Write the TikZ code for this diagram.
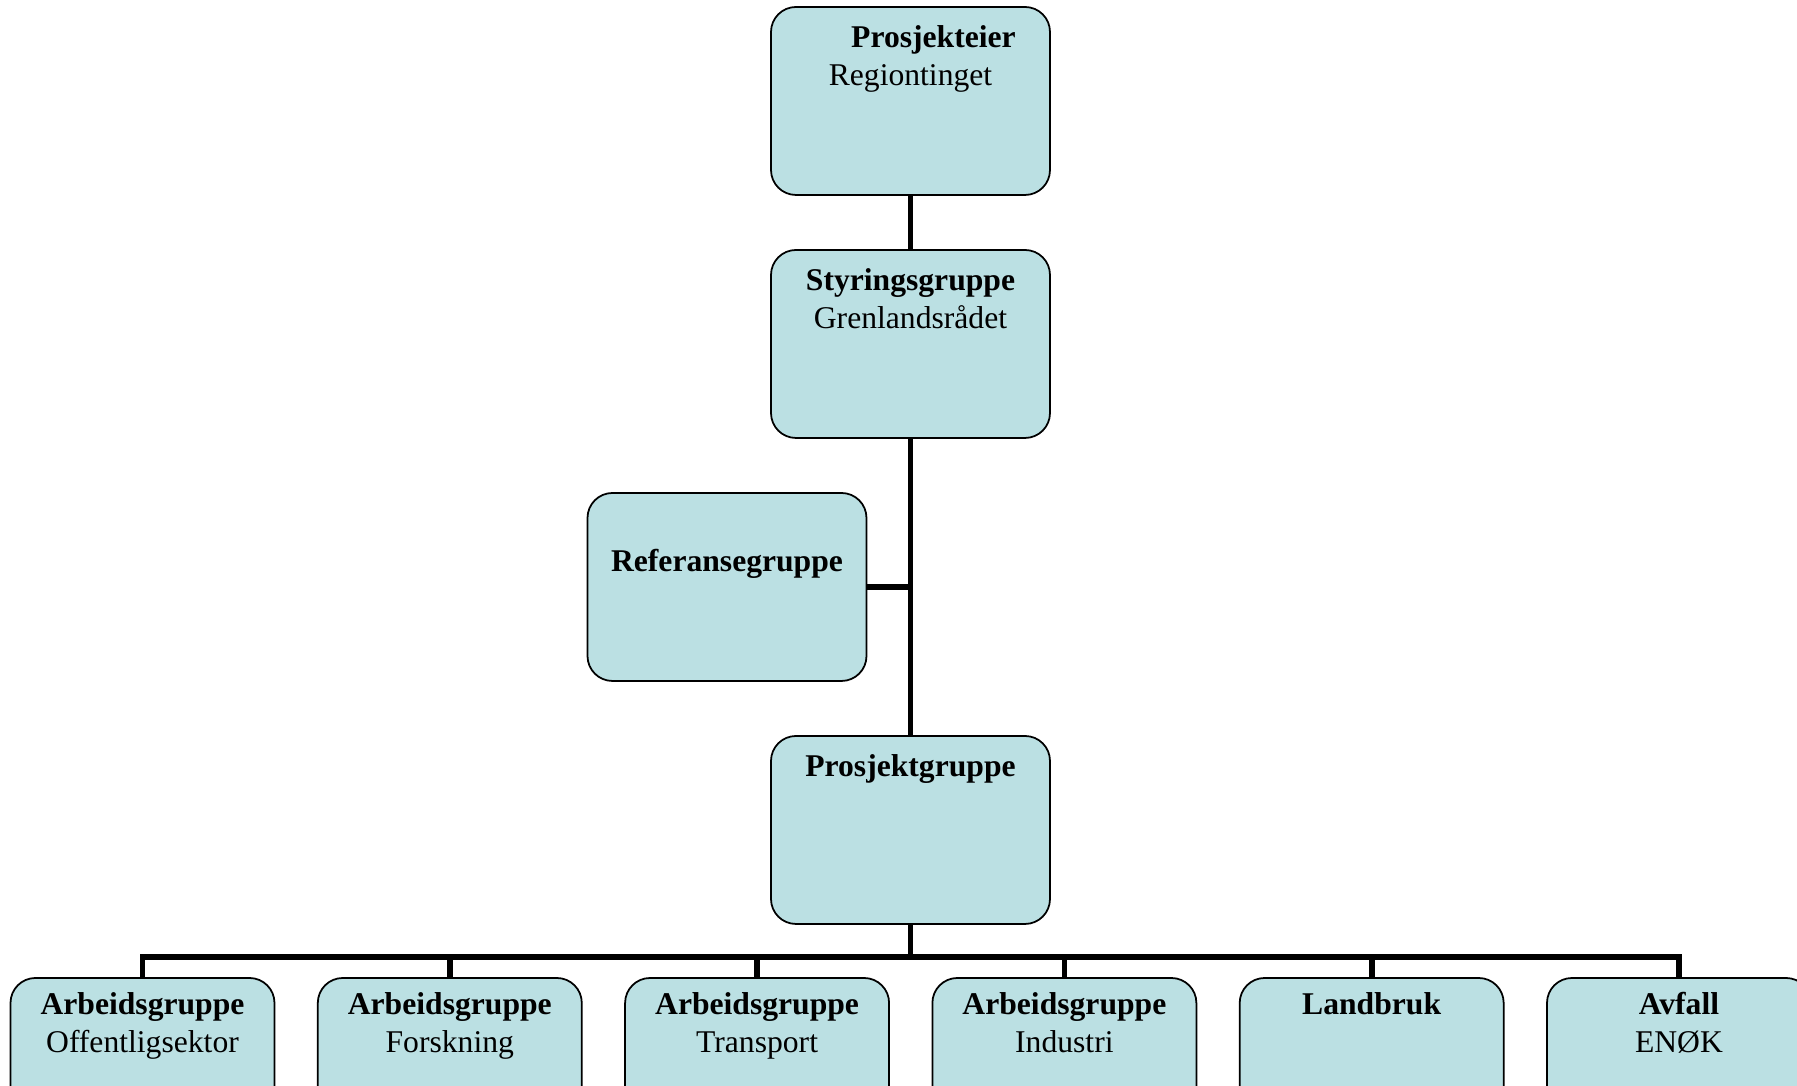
\documentclass[tikz,border=0pt]{standalone}
\usepackage{fontspec}
\setmainfont{Liberation Serif}
\usepackage{tikz}
\tikzset{>=latex}
\definecolor{boxfill}{HTML}{BBE0E3}
\newcommand{\boxtext}[4][0.41cm]{\parbox[c][1.88cm][t]{#2}{\centering\rule{0pt}{#1}#3\\#4}}
\tikzset{
    orgbox/.style = {draw, line width=0.5pt, rounded corners=0.25cm, fill=boxfill, inner sep=0pt,
        font=\fontsize{9}{10.6}\selectfont},
    link/.style = {line width=1.6pt}
}

\begin{document}
\begin{tikzpicture}
            \useasboundingbox (0, 0) rectangle (17.97, 10.86);
            \clip (0, 0) rectangle (17.97, 10.86);
            \node[orgbox] (eier) at (9.105, 9.85) {\boxtext{2.79cm}{\hspace{0.46cm}\textbf{Prosjekteier}}{Regiontinget}};
            \node[orgbox] (styring) at (9.105, 7.42) {\boxtext{2.79cm}{\textbf{Styringsgruppe}}{Grenlandsrådet}};
            \node[orgbox] (referanse) at (7.27, 4.99) {\boxtext{2.79cm}{}{\textbf{Referansegruppe}}};
            \node[orgbox] (prosjekt) at (9.105, 2.56) {\boxtext{2.79cm}{\textbf{Prosjektgruppe}}{}};
            \coordinate (bus) at (9.105, 1.29);
            \foreach \name/\head/\sub [count=\i from 0] in {offentlig/Arbeidsgruppe/Offentligsektor, forskning/Arbeidsgruppe/Forskning, transport/Arbeidsgruppe/Transport, industri/Arbeidsgruppe/Industri, landbruk/Landbruk/, avfall/Avfall/ENØK} {
                \node[orgbox] (\name) at (1.425 + 3.073*\i, 0.14) {\boxtext[0.37cm]{2.64cm}{\textbf{\head}}{\sub}};
                \draw[link] (\name.north) |- (bus);
            }
            \draw[link] (eier.south) -- (styring.north);
            \draw[link] (styring.south) -- (prosjekt.north);
            \draw[link] (referanse.east) -- (styring.south |- referanse.east);
            \draw[link] (prosjekt.south) -- (bus);
        \end{tikzpicture}
\end{document}
